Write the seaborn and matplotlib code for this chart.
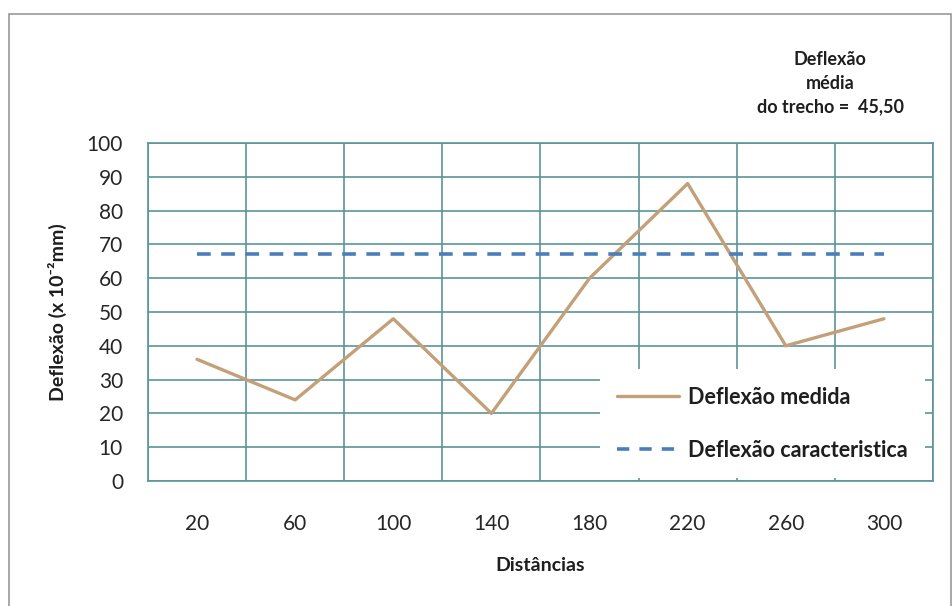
import matplotlib
matplotlib.use("Agg")
import matplotlib.pyplot as plt
import seaborn as sns
import pandas as pd
from matplotlib.lines import Line2D
from matplotlib.patches import Rectangle

# Dados do trecho
distancias = ["20", "60", "100", "140", "180", "220", "260", "300"]
deflexao_medida = [36, 24, 48, 20, 60, 88, 40, 48]
deflexao_caracteristica = [67.09] * 8
media_trecho = "45,50"
y_ticks = [0, 10, 20, 30, 40, 50, 60, 70, 80, 90, 100]

sns.set_theme(style="white")
plt.rcParams["font.family"] = ["Lato", "DejaVu Sans"]

grid_color = "#5b939b"
cor_medida = "#c4a078"
cor_caract = "#4a7ebb"
cor_texto = "#1e1e1e"

df = pd.DataFrame({
    "Distâncias": distancias,
    "medida": deflexao_medida,
    "caract": deflexao_caracteristica,
})

fig = plt.figure(figsize=(9.53, 6.06), dpi=100)
ax = fig.add_axes([0.1553, 0.2063, 0.979 - 0.1553, 0.764 - 0.2063])

sns.lineplot(data=df, x="Distâncias", y="medida", ax=ax, color=cor_medida,
             linewidth=2.4, sort=False, zorder=3)
sns.lineplot(data=df, x="Distâncias", y="caract", ax=ax, color=cor_caract,
             linewidth=2.6, sort=False, zorder=3, dashes=False)
ax.lines[1].set_linestyle((0, (3.8, 2.9)))

n = len(distancias)
ax.set_xlim(-0.5, n - 0.5)
ax.set_ylim(0, 100)
ax.set_yticks(y_ticks)
ax.set_xticks(range(n))
ax.set_xticklabels(distancias)
ax.set_xticks([k - 0.5 for k in range(n + 1)], minor=True)
ax.tick_params(axis="both", which="both", length=0, labelsize=15,
               colors="#262626")
ax.tick_params(axis="x", pad=24)
ax.tick_params(axis="y", pad=18)
ax.grid(True, axis="x", which="minor", color=grid_color, linewidth=1.2)
ax.grid(True, axis="y", which="major", color=grid_color, linewidth=1.2)
ax.grid(False, axis="x", which="major")
for sp in ax.spines.values():
    sp.set_visible(True)
    sp.set_color(grid_color)
    sp.set_linewidth(1.2)

ax.set_xlabel("Distâncias", fontsize=14, fontweight="bold",
              color=cor_texto, labelpad=16)
ax.set_ylabel("Deflexão (x 10⁻²mm)", fontsize=14, fontweight="bold",
              color=cor_texto, labelpad=14)

handles = [
    Line2D([], [], color=cor_medida, linewidth=2.4),
    Line2D([], [], color=cor_caract, linewidth=2.6, linestyle=(0, (3.4, 2.8))),
]
leg = ax.legend(handles, ["Deflexão medida", "Deflexão caracteristica"],
                loc="lower right", bbox_to_anchor=(0.9895, 0.0085),
                frameon=True, facecolor="white", edgecolor="none",
                framealpha=1, fancybox=False, prop={"size": 15.5, "weight": "bold"},
                handlelength=2.9, handletextpad=0.4, labelspacing=1.5,
                borderpad=0.8, borderaxespad=0)
for t in leg.get_texts():
    t.set_color(cor_texto)

fig.text(0.871, 0.863, "Deflexão\nmédia\ndo trecho =  " + media_trecho,
         ha="center", va="center", fontsize=13, fontweight="bold",
         color=cor_texto, linespacing=1.45)

# moldura externa
fig.patches.append(Rectangle((9 / 953, -0.01), (951 - 9) / 953, 1 - 14 / 606 + 0.01,
                             transform=fig.transFigure, fill=False,
                             edgecolor="#9a9a9a", linewidth=1.2))

fig.savefig("out.png", dpi=100, facecolor="white")
